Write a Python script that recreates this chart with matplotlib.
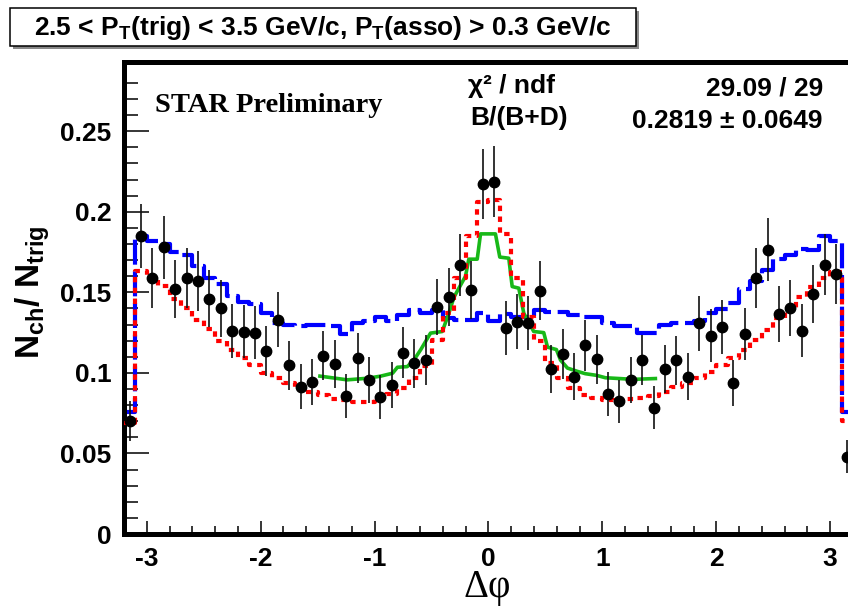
import numpy as np
import matplotlib
matplotlib.use("Agg")
import matplotlib.pyplot as plt
from matplotlib.patches import Rectangle

plt.rcParams['mathtext.fontset'] = 'custom'
plt.rcParams['mathtext.rm'] = 'Liberation Sans:bold'
plt.rcParams['mathtext.it'] = 'Liberation Sans:bold'
plt.rcParams['mathtext.bf'] = 'Liberation Sans:bold'

# binning in delta phi
bin_edges = np.linspace(-3.2, 3.2, 65)
bin_centers = 0.5 * (bin_edges[:-1] + bin_edges[1:])

# measured correlation (black points)
data_y = [0.070, 0.185, 0.159, 0.178, 0.152, 0.159, 0.157, 0.146, 0.140, 0.126,
          0.1255, 0.125, 0.1135, 0.133, 0.1046, 0.0915, 0.0946, 0.1108, 0.1056, 0.0857,
          0.1091, 0.0957, 0.0849, 0.0924, 0.1126, 0.106, 0.108, 0.141, 0.147, 0.167,
          0.1516, 0.2172, 0.2188, 0.1278, 0.1319, 0.1309, 0.1511, 0.1026, 0.1118, 0.0977,
          0.1172, 0.1085, 0.087, 0.0824, 0.0957, 0.1081, 0.0785, 0.1025, 0.1079, 0.0977,
          0.1308, 0.1232, 0.1284, 0.0936, 0.1242, 0.1588, 0.1764, 0.1365, 0.1402, 0.1263,
          0.149, 0.1671, 0.1613, 0.048]
data_err = [0.0123, 0.020, 0.0186, 0.0197, 0.0182, 0.0186, 0.0185, 0.0178, 0.0174, 0.0165,
            0.0165, 0.0165, 0.0157, 0.017, 0.0151, 0.0141, 0.0143, 0.0155, 0.0151, 0.0136,
            0.0154, 0.0144, 0.0136, 0.0142, 0.0156, 0.0152, 0.0153, 0.0175, 0.0179, 0.019,
            0.0181, 0.0217, 0.0218, 0.0167, 0.0169, 0.0169, 0.0181, 0.0149, 0.0156, 0.0146,
            0.0159, 0.0153, 0.0137, 0.0134, 0.0144, 0.0153, 0.0131, 0.0149, 0.0153, 0.0146,
            0.0169, 0.0164, 0.0167, 0.0143, 0.0164, 0.0186, 0.0196, 0.0172, 0.0174, 0.0165,
            0.018, 0.019, 0.0187, 0.0102]

# blue dashed histogram
blue_y = [0.076, 0.185, 0.182, 0.180, 0.175, 0.173, 0.1665, 0.159, 0.155, 0.148,
          0.144, 0.143, 0.137, 0.131, 0.130, 0.129, 0.130, 0.130, 0.129, 0.124,
          0.131, 0.132, 0.135, 0.1325, 0.136, 0.139, 0.137, 0.139, 0.134, 0.133,
          0.133, 0.137, 0.132, 0.1365, 0.135, 0.135, 0.139, 0.138, 0.138, 0.136,
          0.1346, 0.1346, 0.131, 0.129, 0.129, 0.125, 0.125, 0.130, 0.131, 0.131,
          0.132, 0.137, 0.1395, 0.1437, 0.152, 0.157, 0.1636, 0.1708, 0.1733, 0.1768,
          0.176, 0.1847, 0.182, 0.076]

# red dotted histogram (total)
red_y = [0.069, 0.163, 0.159, 0.154, 0.146, 0.140, 0.133, 0.127, 0.120, 0.114,
         0.109, 0.105, 0.100, 0.097, 0.0935, 0.090, 0.088, 0.086, 0.084, 0.083,
         0.082, 0.082, 0.0835, 0.087, 0.0905, 0.097, 0.104, 0.1205, 0.137, 0.159,
         0.185, 0.206, 0.2075, 0.186, 0.159, 0.135, 0.1195, 0.106, 0.097, 0.0905,
         0.0865, 0.0843, 0.0832, 0.0826, 0.0835, 0.0845, 0.0857, 0.088, 0.0911, 0.094,
         0.097, 0.1005, 0.105, 0.1095, 0.1143, 0.1205, 0.1267, 0.134, 0.1402, 0.1474,
         0.1536, 0.1588, 0.1629, 0.070]

# green curve (near side)
green_x = [-1.48, -1.24, -1.06, -0.947, -0.842, -0.80, -0.713, -0.655, -0.596, -0.509,
           -0.406, -0.348, -0.304, -0.26, -0.202, -0.173, -0.099, -0.07, 0.061, 0.099,
           0.178, 0.208, 0.266, 0.31, 0.397, 0.485, 0.518, 0.596, 0.632, 0.693,
           0.778, 0.851, 0.947, 1.026, 1.272, 1.465]
green_y = [0.098, 0.0957, 0.0967, 0.098, 0.0998, 0.1035, 0.1039, 0.108, 0.1143, 0.1247,
           0.1257, 0.137, 0.1469, 0.1526, 0.160, 0.1706, 0.1706, 0.1863, 0.1863, 0.1719,
           0.1712, 0.1536, 0.1526, 0.137, 0.1257, 0.125, 0.116, 0.1145, 0.108, 0.103,
           0.101, 0.0995, 0.0985, 0.097, 0.096, 0.0965]

W, H = 848, 608
fig = plt.figure(figsize=(W / 100, H / 100), dpi=100)
ax = fig.add_axes([124 / W, 1 - 534 / H, (853 - 124) / W, (534 - 62) / H])

ax.step(bin_edges, np.append(blue_y, blue_y[-1]), where='post', color='#0000ff',
        lw=3.0, dashes=(6, 1.6), zorder=2)
ax.plot(green_x, green_y, color='#18b818', lw=2.6, zorder=3)
ax.step(bin_edges, np.append(red_y, red_y[-1]), where='post', color='#ff0000',
        lw=3.0, dashes=(1.3, 1.3), zorder=4)
ax.errorbar(bin_centers, data_y, yerr=data_err, fmt='o', color='black', ms=7.5,
            elinewidth=1.2, ecolor='#111111', capsize=0, zorder=5)

ax.set_xlim(-3.2, 3.2)
ax.set_ylim(0, 0.293)
ax.set_xticks([-3, -2, -1, 0, 1, 2, 3])
ax.set_xticks(np.arange(-3.2, 3.21, 0.2), minor=True)
ax.set_yticks([0, 0.05, 0.1, 0.15, 0.2, 0.25])
ax.set_yticks(np.arange(0, 0.29, 0.01), minor=True)
ax.set_yticklabels(['0', '0.05', '0.1', '0.15', '0.2', '0.25'])
ax.set_xticklabels(['-3', '-2', '-1', '0', '1', '2', '3'])

ax.tick_params(axis='both', which='both', direction='in', top=False, right=False,
               width=1.1, color='black')
ax.tick_params(axis='y', which='major', length=18, pad=9)
ax.tick_params(axis='y', which='minor', length=10)
ax.tick_params(axis='x', which='major', length=9.5, pad=9)
ax.tick_params(axis='x', which='minor', length=6)
for lab in ax.get_xticklabels() + ax.get_yticklabels():
    lab.set_family('Liberation Sans')
    lab.set_fontweight('bold')
    lab.set_fontsize(19)
for sp in ax.spines.values():
    sp.set_linewidth(3.6)

# axis titles
fig.text(487 / W, 1 - 587 / H, 'Δφ', family='Liberation Serif', fontsize=28,
         ha='center', va='center')
fig.text(33 / W, 1 - 292 / H, r'N$_{\rm ch}$/ N$_{\rm trig}$', fontsize=24,
         fontweight='bold', family='Liberation Sans', rotation=90,
         ha='center', va='center')

# labels inside the frame
fig.text(155 / W, 1 - 112 / H, 'STAR Preliminary', family='Liberation Serif',
         fontweight='bold', fontsize=20.5, ha='left', va='baseline')
fig.text(468 / W, 1 - 93 / H, 'χ² / ndf', family='Liberation Sans', fontsize=19,
         fontweight='bold', ha='left', va='baseline')
fig.text(470 / W, 1 - 125 / H, 'B/(B+D)', family='Liberation Sans', fontsize=19,
         fontweight='bold', ha='left', va='baseline')
fig.text(823 / W, 1 - 95 / H, '29.09 / 29', family='Liberation Sans', fontsize=19,
         fontweight='bold', ha='right', va='baseline')
fig.text(823 / W, 1 - 128 / H, '0.2819 ± 0.0649', family='Liberation Sans',
         fontweight='bold', fontsize=19, ha='right', va='baseline')

# cut title box
fig.patches.append(Rectangle((13 / W, 1 - 49 / H), 626 / W, 38 / H,
                             transform=fig.transFigure, facecolor='#888888',
                             edgecolor='none', zorder=1))
fig.patches.append(Rectangle((10 / W, 1 - 46 / H), 626 / W, 38 / H,
                             transform=fig.transFigure, facecolor='white',
                             edgecolor='black', lw=1.1, zorder=2))
fig.text(323 / W, 1 - 28 / H,
         r'2.5 < P$_{\rm T}$(trig) < 3.5 GeV/c, P$_{\rm T}$(asso) > 0.3 GeV/c',
         family='Liberation Sans', fontweight='bold',
         fontsize=19, ha='center', va='center', zorder=3)

fig.savefig('out.png', dpi=100)
